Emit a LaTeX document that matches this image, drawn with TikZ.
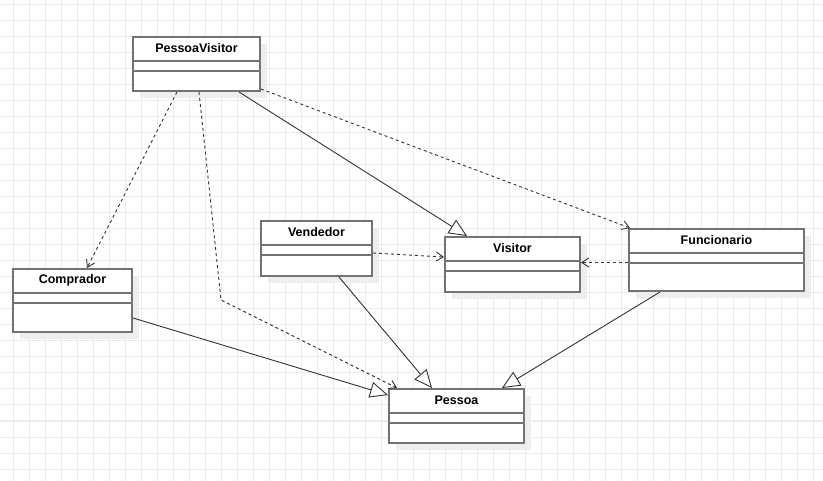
\documentclass[tikz,border=0pt]{standalone}
\usepackage{fontspec}
\setmainfont{Liberation Sans}
\usetikzlibrary{arrows.meta,shadows}
\definecolor{gridc}{HTML}{ECECEC}
\definecolor{boxc}{HTML}{737373}
\definecolor{linec}{HTML}{333333}
\definecolor{shadc}{HTML}{EEEEEE}
\tikzset{
  cls/.style={draw=boxc, line width=2pt, fill=white, inner sep=0pt,
    drop shadow={shadow xshift=7pt, shadow yshift=-7pt, fill=shadc, opacity=1}},
  ttl/.style={font=\bfseries\fontsize{12.5}{14}\selectfont, inner sep=0pt},
  div/.style={draw=boxc, line width=2pt},
  dep/.style={draw=linec, line width=0.9pt, dash pattern=on 3pt off 3pt,
    -{Straight Barb[length=7pt,width=9pt,line width=0.9pt]}},
  gen/.style={draw=linec, line width=0.9pt,
    -{Triangle[open, length=18pt, width=16pt, line width=0.9pt, fill=white]}}
}
\newcommand{\umlcls}[6]{%
  \node[cls, minimum width=#4pt, minimum height=#5pt] (#1) at (#2,#3) {};
  \node[ttl] (#1t) at ([yshift=-12.5pt]#1.north) {#6};
  \draw[div] ([yshift=-25pt]#1.north west) -- ([yshift=-25pt]#1.north east);
  \draw[div] ([yshift=-35pt]#1.north west) -- ([yshift=-35pt]#1.north east);
}
\begin{document}
\begin{tikzpicture}[x=1pt,y=-1pt]
\useasboundingbox (0,0) rectangle (823,481);
\fill[white] (0,0) rectangle (823,481);
\foreach \gx in {13,29,...,813} \draw[gridc, line width=1pt] (\gx,0) -- (\gx,481);
\foreach \gy in {5,21,...,477} \draw[gridc, line width=1pt] (0,\gy) -- (823,\gy);

\umlcls{pv}{196.5}{64}{127}{54}{PessoaVisitor}
\umlcls{comp}{72.5}{300.5}{119}{63}{Comprador}
\umlcls{vend}{316.5}{248.5}{111}{55}{Vendedor}
\umlcls{vis}{512.5}{264.5}{135}{55}{Visitor}
\umlcls{func}{716.5}{260}{175}{62}{Funcionario}
\umlcls{pes}{456.5}{416}{135}{54}{Pessoa}

\coordinate (wp) at (221,300);

\draw[dep] ([xshift=45pt]pv.south west) -- ([xshift=75pt]comp.north west);
\draw[dep] ([xshift=67pt]pv.south west) -- (wp) -- ([xshift=9pt]pes.north west);
\draw[gen] ([xshift=107pt]pv.south west) -- ([xshift=23pt]vis.north west);
\draw[dep] ([yshift=3pt]pv.south east) -- ([xshift=2pt]func.north west);
\draw[dep] ([yshift=-4.5pt]vend.east) -- ([yshift=7.5pt]vis.west);
\draw[dep] ([yshift=-2.5pt]func.west) -- ([yshift=2pt]vis.east);
\draw[gen] ([xshift=79pt]vend.south west) -- ([xshift=44pt]pes.north west);
\draw[gen] ([xshift=32pt]func.south west) -- ([xshift=114pt]pes.north west);
\draw[gen] ([yshift=-17.5pt]comp.east) -- ([yshift=21pt]pes.west);
\end{tikzpicture}
\end{document}
